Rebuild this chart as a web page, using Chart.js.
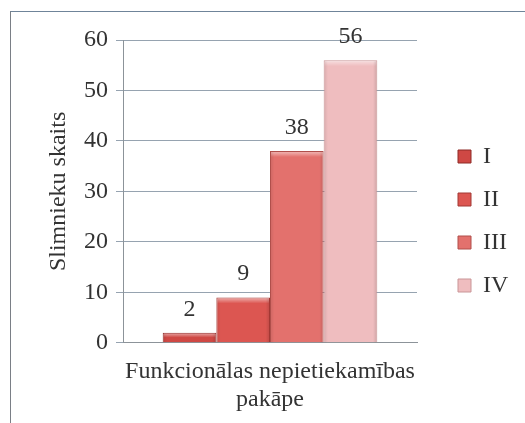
<!DOCTYPE html>
<html>
<head>
<meta charset="utf-8">
<script src="https://cdn.jsdelivr.net/npm/chart.js@4/dist/chart.umd.min.js"></script>
<style>
  html, body { margin: 0; padding: 0; background: #fff; }
  #wrap { position: relative; width: 525px; height: 423px; overflow: hidden; }
  #frame { position: absolute; left: 10px; top: 11px; width: 700px; height: 700px;
           border-top: 1.5px solid #6f8499; border-left: 1.5px solid #7a7f86; }
  canvas { position: absolute; left: 0; top: 0; }
</style>
</head>
<body>
<div id="wrap">
  <div id="frame"></div>
  <canvas id="c" width="525" height="423"></canvas>
</div>
<script>
// Patient counts by functional insufficiency class
const categories = ['Funkcionālas nepietiekamības pakāpe'];
const seriesNames = ['I', 'II', 'III', 'IV'];
const seriesValues = [[2], [9], [38], [56]];
const yTicks = [0, 10, 20, 30, 40, 50, 60];
const seriesColors = ['#cf4844', '#dc5651', '#e3716d', '#efbdbf'];
const seriesBorders = ['#8e2a27', '#a23834', '#b04f4b', '#c99597'];

const textColor = '#333333';
const serif = '"Liberation Serif", "Times New Roman", serif';

// Soft bevel on each bar: light top rim, shaded sides
const barBevel = {
  id: 'barBevel',
  afterDatasetsDraw(chart) {
    const ctx = chart.ctx;
    ctx.save();
    chart.data.datasets.forEach((ds, i) => {
      chart.getDatasetMeta(i).data.forEach(bar => {
        const left = bar.x - bar.width / 2;
        const top = bar.y;
        const h = bar.base - bar.y;
        const w = bar.width;
        const rim = Math.min(6, h / 2);
        let g = ctx.createLinearGradient(0, top, 0, top + rim);
        g.addColorStop(0, 'rgba(255,255,255,0.55)');
        g.addColorStop(1, 'rgba(255,255,255,0)');
        ctx.fillStyle = g;
        ctx.fillRect(left + 1, top + 1, w - 2, rim);
        g = ctx.createLinearGradient(left, 0, left + w, 0);
        g.addColorStop(0, 'rgba(0,0,0,0.10)');
        g.addColorStop(0.08, 'rgba(0,0,0,0)');
        g.addColorStop(0.92, 'rgba(0,0,0,0)');
        g.addColorStop(1, 'rgba(0,0,0,0.14)');
        ctx.fillStyle = g;
        ctx.fillRect(left + 1, top + 1, w - 2, h - 1);
      });
    });
    ctx.restore();
  }
};

// Writes each bar's value above it
const valueLabels = {
  id: 'valueLabels',
  afterDatasetsDraw(chart) {
    const ctx = chart.ctx;
    ctx.save();
    ctx.font = '24px ' + serif;
    ctx.fillStyle = textColor;
    ctx.textAlign = 'center';
    ctx.textBaseline = 'alphabetic';
    chart.data.datasets.forEach((ds, i) => {
      const meta = chart.getDatasetMeta(i);
      meta.data.forEach((bar, j) => {
        ctx.fillText(String(ds.data[j]), bar.x, bar.y - 17);
      });
    });
    ctx.restore();
  }
};

new Chart(document.getElementById('c'), {
  type: 'bar',
  data: {
    labels: categories,
    datasets: seriesNames.map((name, i) => ({
      label: name,
      data: seriesValues[i],
      backgroundColor: seriesColors[i],
      borderColor: seriesBorders[i],
      borderWidth: 1,
      barPercentage: 1,
      categoryPercentage: 0.73
    }))
  },
  options: {
    responsive: false,
    animation: false,
    layout: { padding: { top: 28, left: 44, right: 7, bottom: 9 } },
    plugins: {
      legend: {
        position: 'right',
        labels: {
          font: { family: serif, size: 24 },
          color: textColor,
          boxWidth: 13,
          boxHeight: 13,
          padding: 19
        }
      },
      tooltip: { enabled: false }
    },
    scales: {
      x: {
        ticks: { display: false },
        grid: { display: false },
        border: { color: '#8c9399' },
        title: {
          display: true,
          text: ['Funkcionālas nepietiekamības', 'pakāpe'],
          font: { family: serif, size: 24, lineHeight: 1.17 },
          color: textColor,
          padding: { top: 7, bottom: 0 }
        }
      },
      xTop: {
        position: 'top',
        display: true,
        ticks: { display: false },
        grid: { display: false, drawTicks: false },
        border: { display: false },
        afterFit(scale) { scale.height = 12; }
      },
      y: {
        min: 0,
        max: 60,
        afterBuildTicks(scale) { scale.ticks = yTicks.map(v => ({ value: v })); },
        ticks: {
          font: { family: serif, size: 24 },
          color: textColor,
          padding: 8
        },
        grid: { color: '#96a3b0', lineWidth: 1, tickLength: 7 },
        border: { color: '#8c9399' },
        title: {
          display: true,
          text: 'Slimnieku skaits',
          font: { family: serif, size: 24 },
          color: textColor,
          padding: { top: 0, bottom: 4 }
        }
      },
      yRight: {
        position: 'right',
        display: true,
        ticks: { display: false },
        grid: { display: false, drawTicks: false },
        border: { display: false },
        afterFit(scale) { scale.width = 22; }
      }
    }
  },
  plugins: [barBevel, valueLabels]
});
</script>
</body>
</html>
